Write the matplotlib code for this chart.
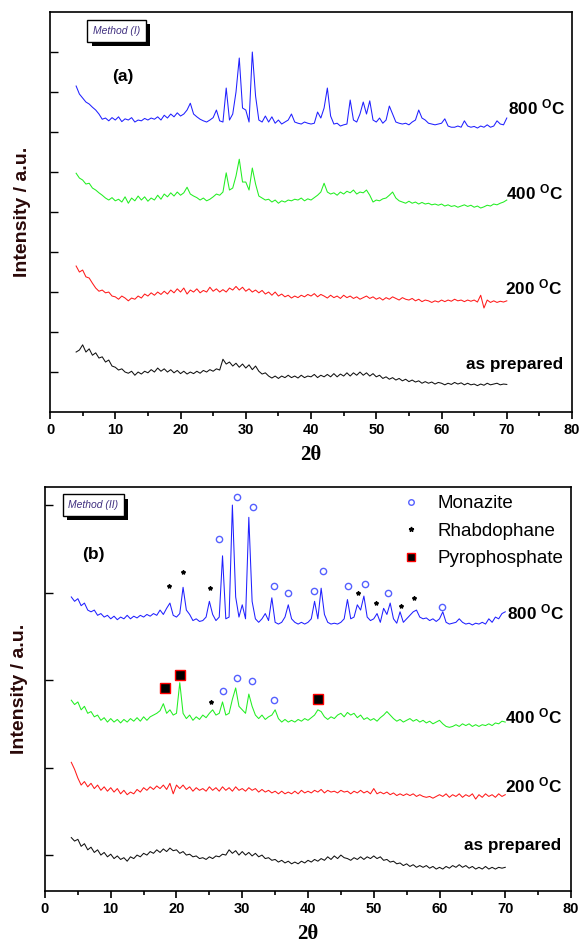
import numpy as np
import matplotlib.pyplot as plt
import matplotlib.patheffects as pe
from matplotlib.lines import Line2D

plt.rcParams['font.family'] = ['Liberation Sans', 'DejaVu Sans']
plt.rcParams['mathtext.fontset'] = 'custom'
plt.rcParams['mathtext.rm'] = 'Liberation Sans:bold'

# scan steps, 2theta in degrees (0.5 deg)
two_theta = np.linspace(4, 70, 133)

# ---- Method (I), offset intensities
a800 = [8.15, 7.95, 7.85, 7.75, 7.7, 7.62, 7.55, 7.45, 7.32, 7.35, 7.28, 7.36,
        7.3, 7.38, 7.26, 7.33, 7.3, 7.36, 7.25, 7.3, 7.28, 7.34, 7.3, 7.35,
        7.32, 7.38, 7.3, 7.42, 7.35, 7.45, 7.38, 7.48, 7.4, 7.45, 7.55, 7.72,
        7.45, 7.38, 7.32, 7.28, 7.25, 7.3, 7.36, 7.55, 7.28, 7.25, 8.1, 7.3,
        7.45, 8.0, 8.85, 7.6, 7.55, 7.25, 9.0, 7.9, 7.3, 7.25, 7.4, 7.25,
        7.38, 7.22, 7.3, 7.2, 7.25, 7.3, 7.45, 7.25, 7.22, 7.2, 7.25, 7.22,
        7.2, 7.22, 7.5, 7.35, 7.6, 8.1, 7.4, 7.2, 7.22, 7.15, 7.18, 7.2,
        7.8, 7.3, 7.25, 7.45, 7.75, 7.45, 7.78, 7.3, 7.25, 7.35, 7.22, 7.3,
        7.65, 7.45, 7.25, 7.22, 7.2, 7.22, 7.18, 7.25, 7.3, 7.55, 7.35, 7.3,
        7.22, 7.2, 7.18, 7.2, 7.22, 7.33, 7.15, 7.12, 7.12, 7.15, 7.12, 7.28,
        7.15, 7.12, 7.14, 7.1, 7.15, 7.12, 7.18, 7.12, 7.15, 7.28, 7.2, 7.18, 7.35]
a400 = [5.97, 5.85, 5.8, 5.7, 5.72, 5.6, 5.55, 5.48, 5.42, 5.35, 5.3, 5.36,
        5.28, 5.32, 5.25, 5.38, 5.22, 5.35, 5.28, 5.4, 5.3, 5.38, 5.27, 5.35,
        5.3, 5.42, 5.32, 5.45, 5.38, 5.48, 5.4, 5.5, 5.42, 5.48, 5.62, 5.45,
        5.4, 5.36, 5.3, 5.35, 5.28, 5.32, 5.38, 5.45, 5.42, 5.5, 5.98, 5.55,
        5.6, 5.9, 6.32, 5.75, 5.75, 5.55, 6.1, 5.7, 5.4, 5.35, 5.3, 5.32,
        5.25, 5.3, 5.22, 5.28, 5.25, 5.3, 5.28, 5.32, 5.3, 5.35, 5.28, 5.33,
        5.3, 5.36, 5.42, 5.5, 5.72, 5.5, 5.45, 5.48, 5.42, 5.5, 5.45, 5.52,
        5.48, 5.55, 5.45, 5.5, 5.48, 5.55, 5.42, 5.25, 5.3, 5.28, 5.33, 5.35,
        5.42, 5.5, 5.35, 5.28, 5.25, 5.22, 5.27, 5.22, 5.25, 5.2, 5.24, 5.2,
        5.22, 5.18, 5.2, 5.17, 5.2, 5.15, 5.18, 5.14, 5.16, 5.12, 5.15, 5.18,
        5.14, 5.17, 5.12, 5.15, 5.1, 5.13, 5.17, 5.15, 5.2, 5.18, 5.22, 5.25, 5.3]
a200 = [3.65, 3.5, 3.55, 3.38, 3.35, 3.22, 3.1, 3.02, 3.05, 2.98, 3.0, 2.9,
        2.88, 2.82, 2.9, 2.85, 2.78, 2.85, 2.82, 2.9, 2.85, 2.95, 2.9, 2.98,
        2.92, 3.0, 2.94, 3.02, 2.95, 3.05, 2.98, 3.08, 3.0, 3.1, 2.95, 3.05,
        3.0, 3.08, 2.98, 3.04, 3.0, 3.12, 3.02, 3.08, 3.0, 3.06, 3.0, 3.1,
        3.05, 3.14, 3.05, 3.12, 3.02, 3.08, 3.0, 3.05, 2.98, 3.04, 2.95, 3.0,
        2.92, 3.0, 2.9, 2.95, 2.88, 2.92, 2.85, 2.9, 2.86, 2.92, 2.88, 2.94,
        2.9, 2.96, 2.88, 2.94, 2.9, 2.85, 2.92, 2.86, 2.9, 2.84, 2.92, 2.86,
        2.9, 2.84, 2.88, 2.82, 2.86, 2.9, 2.84, 2.88, 2.82, 2.86, 2.8, 2.86,
        2.82, 2.88, 2.84, 2.8, 2.86, 2.82, 2.8, 2.84, 2.78, 2.82, 2.76, 2.8,
        2.78, 2.74, 2.78, 2.75, 2.8, 2.76, 2.8, 2.77, 2.82, 2.78, 2.8, 2.76,
        2.8, 2.77, 2.8, 2.75, 2.92, 2.6, 2.8, 2.74, 2.78, 2.74, 2.77, 2.75, 2.78]
a_prep = [1.5, 1.55, 1.68, 1.5, 1.58, 1.42, 1.48, 1.35, 1.38, 1.25, 1.3, 1.15,
          1.12, 1.05, 1.08, 1.0, 0.97, 1.02, 0.92, 1.0, 0.95, 1.02, 0.98, 1.06,
          1.0, 1.1, 1.02, 1.08, 1.0, 1.06, 0.98, 1.04, 0.96, 1.02, 0.95, 1.0,
          0.96, 1.02, 0.97, 1.04, 1.0, 1.06, 1.02, 1.08, 1.05, 1.32, 1.2, 1.25,
          1.15, 1.22, 1.12, 1.2, 1.1, 1.18, 1.06, 1.15, 1.02, 0.95, 0.98, 0.9,
          0.85, 0.9, 0.84, 0.9, 0.86, 0.92, 0.86, 0.9, 0.85, 0.92, 0.86, 0.9,
          0.88, 0.94, 0.86, 0.92, 0.88, 0.94, 0.88, 0.96, 0.88, 0.95, 0.9, 0.98,
          0.9, 0.98, 0.92, 1.0, 0.92, 0.98, 0.9, 0.96, 0.88, 0.92, 0.84, 0.88,
          0.82, 0.86, 0.8, 0.84, 0.78, 0.82, 0.76, 0.8, 0.75, 0.78, 0.72, 0.76,
          0.72, 0.75, 0.7, 0.74, 0.72, 0.68, 0.72, 0.69, 0.74, 0.7, 0.73, 0.68,
          0.72, 0.68, 0.7, 0.66, 0.7, 0.67, 0.72, 0.68, 0.7, 0.72, 0.68, 0.7, 0.69]

# ---- Method (II), offset intensities
b800 = [3.95, 3.9, 3.93, 3.85, 3.88, 3.8, 3.78, 3.8, 3.74, 3.76, 3.72, 3.74,
        3.7, 3.73, 3.69, 3.72, 3.7, 3.74, 3.7, 3.73, 3.71, 3.74, 3.72, 3.75,
        3.73, 3.76, 3.74, 3.8, 3.75, 3.82, 3.88, 3.74, 3.72, 3.76, 4.06, 3.8,
        3.75, 3.68, 3.7, 3.67, 3.68, 3.72, 3.9, 3.75, 3.68, 3.72, 4.42, 3.7,
        3.72, 5.0, 3.95, 3.72, 3.86, 3.7, 4.86, 3.9, 3.7, 3.66, 3.7, 3.76,
        3.68, 3.94, 3.66, 3.64, 3.66, 3.72, 3.86, 3.7, 3.66, 3.64, 3.66, 3.64,
        3.66, 3.7, 3.9, 3.7, 4.05, 3.75, 3.66, 3.64, 3.65, 3.64, 3.66, 3.7,
        3.92, 3.7, 3.72, 3.86, 3.8, 3.96, 3.72, 3.68, 3.7, 3.76, 3.66, 3.82,
        3.75, 3.88, 3.7, 3.65, 3.78, 3.66, 3.7, 3.74, 3.78, 3.8, 3.72, 3.7,
        3.71, 3.68, 3.7, 3.67, 3.7, 3.78, 3.66, 3.64, 3.65, 3.66, 3.7, 3.66,
        3.64, 3.65, 3.63, 3.65, 3.64, 3.66, 3.64, 3.7, 3.66, 3.72, 3.7, 3.76, 3.78]
b400 = [2.77, 2.72, 2.75, 2.66, 2.7, 2.62, 2.64, 2.58, 2.6, 2.54, 2.57, 2.52,
        2.56, 2.52, 2.55, 2.51, 2.55, 2.52, 2.56, 2.53, 2.57, 2.53, 2.58, 2.54,
        2.58, 2.6, 2.62, 2.65, 2.73, 2.62, 2.66, 2.6, 2.62, 2.97, 2.62, 2.56,
        2.6, 2.54, 2.58, 2.55, 2.6, 2.57, 2.62, 2.66, 2.6, 2.62, 2.75, 2.6,
        2.62, 2.78, 2.91, 2.7, 2.66, 2.62, 2.84, 2.7, 2.6, 2.56, 2.6, 2.55,
        2.58, 2.6, 2.66, 2.56, 2.52, 2.55, 2.52, 2.54, 2.52, 2.55, 2.53, 2.56,
        2.54, 2.57, 2.6, 2.66, 2.64, 2.58, 2.55, 2.58, 2.56, 2.6, 2.62, 2.58,
        2.63, 2.6, 2.62, 2.57, 2.6, 2.55, 2.57, 2.54, 2.56, 2.53, 2.57, 2.6,
        2.64, 2.6, 2.56, 2.53, 2.55, 2.52, 2.54, 2.56, 2.53, 2.55, 2.52, 2.54,
        2.51, 2.53, 2.5, 2.52, 2.54, 2.5, 2.47, 2.46, 2.47, 2.49, 2.47, 2.5,
        2.48, 2.5, 2.47, 2.49, 2.47, 2.49, 2.48, 2.5, 2.48, 2.51, 2.5, 2.53, 2.52]
b200 = [2.06, 1.98, 1.88, 1.8, 1.84, 1.78, 1.82, 1.76, 1.8, 1.74, 1.78, 1.73,
        1.77, 1.72, 1.76, 1.7, 1.74, 1.69, 1.72, 1.7, 1.75, 1.72, 1.77, 1.74,
        1.78, 1.75, 1.79, 1.76, 1.8, 1.75, 1.82, 1.7, 1.8, 1.76, 1.8, 1.75,
        1.78, 1.73, 1.77, 1.74, 1.76, 1.73, 1.78, 1.74, 1.77, 1.73, 1.78, 1.74,
        1.77, 1.73, 1.78, 1.74, 1.76, 1.73, 1.77, 1.74, 1.76, 1.72, 1.75, 1.72,
        1.74, 1.71, 1.73, 1.7, 1.73, 1.7, 1.72, 1.7, 1.73, 1.7, 1.74, 1.71,
        1.73, 1.71, 1.74, 1.72, 1.75, 1.71, 1.74, 1.72, 1.73, 1.71, 1.74, 1.72,
        1.73, 1.7, 1.73, 1.71, 1.74, 1.71, 1.73, 1.7, 1.76, 1.7, 1.72, 1.7,
        1.72, 1.69, 1.71, 1.68, 1.7, 1.68, 1.7, 1.68, 1.7, 1.67, 1.69, 1.67,
        1.66, 1.67, 1.65, 1.67, 1.69, 1.67, 1.7, 1.66, 1.69, 1.67, 1.7, 1.66,
        1.69, 1.67, 1.7, 1.64, 1.69, 1.66, 1.7, 1.67, 1.69, 1.66, 1.7, 1.67, 1.69]
b_prep = [1.2, 1.16, 1.18, 1.1, 1.13, 1.06, 1.09, 1.03, 1.06, 1.0, 1.03, 0.98,
          1.01, 0.96, 0.99, 0.95, 0.97, 0.93, 0.98, 0.96, 1.0, 0.98, 1.02, 1.0,
          1.04, 1.02, 1.06, 1.03, 1.07, 1.04, 1.08, 1.05, 1.06, 1.02, 1.04, 1.0,
          1.01, 0.98, 0.99, 0.96, 0.97, 0.95, 0.98, 0.96, 0.99, 0.98, 1.01, 1.0,
          1.06, 1.02, 1.05, 1.0, 1.04, 1.0, 1.03, 0.99, 1.02, 0.98, 1.0, 0.96,
          0.97, 0.94, 0.95, 0.92, 0.94, 0.91, 0.93, 0.9, 0.92, 0.9, 0.93, 0.91,
          0.94, 0.92, 0.95, 0.93, 0.96, 0.94, 0.98, 0.95, 0.99, 0.96, 1.0, 0.97,
          0.96, 0.94, 0.97, 0.95, 0.98, 0.95, 0.98, 0.96, 0.99, 0.96, 0.98, 0.94,
          0.95, 0.92, 0.93, 0.9, 0.91, 0.88, 0.9, 0.87, 0.89, 0.86, 0.88, 0.86,
          0.88, 0.85, 0.87, 0.84, 0.86, 0.84, 0.87, 0.85, 0.88, 0.86, 0.89, 0.86,
          0.88, 0.85, 0.87, 0.84, 0.86, 0.84, 0.87, 0.84, 0.86, 0.84, 0.86, 0.85, 0.86]

# phase markers (2theta, offset intensity)
mon_x = [26.5, 29.2, 31.6, 34.8, 37.0, 40.9, 42.3, 46.1, 48.7, 52.2, 60.4,
         27.1, 29.2, 31.5, 34.8]
mon_y = [4.61, 5.09, 4.98, 4.07, 4.0, 4.02, 4.25, 4.07, 4.1, 3.99, 3.83,
         2.87, 3.02, 2.99, 2.77]
rha_x = [18.9, 21.0, 25.1, 47.6, 50.3, 54.1, 56.1, 25.2]
rha_y = [4.07, 4.23, 4.05, 3.99, 3.88, 3.85, 3.94, 2.75]
pyr_x = [18.2, 20.5, 41.5]
pyr_y = [2.91, 3.06, 2.78]

labels = ['800 $\\mathregular{^{O}}$C', '400 $\\mathregular{^{O}}$C',
          '200 $\\mathregular{^{O}}$C', 'as prepared']
colors = ['#2020ff', '#22ee22', '#ff1a1a', '#111111']

fig = plt.figure(figsize=(5.79, 9.47), dpi=100)
ax1 = fig.add_axes([0.0864, 0.5649, 0.9016, 0.4224])
ax2 = fig.add_axes([0.0777, 0.0591, 0.9085, 0.4266])

for y, c in zip([a800, a400, a200, a_prep], colors):
    ax1.plot(two_theta, y, color=c, lw=0.75)
for y, c in zip([b800, b400, b200, b_prep], colors):
    ax2.plot(two_theta, y, color=c, lw=0.75)

ax2.plot(mon_x, mon_y, 'o', ms=4.5, mfc='none', mec='#5560ff', mew=1.0, ls='none')
ax2.plot(rha_x, rha_y, '*', ms=3, color='black', ls='none')
ax2.plot(pyr_x, pyr_y, 's', ms=7, mfc='black', mec='red', mew=1.0, ls='none')

# curve labels
for (x, y), t in zip([(70.2, 7.62), (69.9, 5.5), (69.8, 3.12), (63.8, 1.2)], labels):
    ax1.text(x, y, t, fontsize=12.3, fontweight='bold', va='center')
for (x, y), t in zip([(70.2, 3.77), (69.9, 2.58), (69.9, 1.79), (63.7, 1.11)], labels):
    ax2.text(x, y, t, fontsize=12.3, fontweight='bold', va='center')

ax1.text(11.1, 8.4, '(a)', fontsize=12.5, fontweight='bold', ha='center', va='center')
ax2.text(7.3, 4.44, '(b)', fontsize=12.5, fontweight='bold', ha='center', va='center')

for ax, t, pos in [(ax1, 'Method (I)', (0.128, 0.953)), (ax2, 'Method (II)', (0.092, 0.955))]:
    tx = ax.text(pos[0], pos[1], t, transform=ax.transAxes, fontsize=7.5,
                 style='italic', color='#403080', ha='center', va='center',
                 bbox=dict(boxstyle='square,pad=0.55', fc='white', ec='black', lw=1.0))
    tx.get_bbox_patch().set_path_effects(
        [pe.SimplePatchShadow(offset=(3, -3), shadow_rgbFace='black', alpha=1.0), pe.Normal()])

handles = [Line2D([], [], marker='o', ms=4, mfc='none', mec='#5560ff', ls='none'),
           Line2D([], [], marker='*', ms=3.5, color='black', ls='none'),
           Line2D([], [], marker='s', ms=6, mfc='black', mec='red', ls='none')]
ax2.legend(handles, ['Monazite', 'Rhabdophane', 'Pyrophosphate'], loc='upper right',
           bbox_to_anchor=(1.011, 1.012), frameon=False, fontsize=13.5, handletextpad=0.45,
           labelspacing=0.55, borderaxespad=0.3)

for ax in (ax1, ax2):
    ax.set_xlim(0, 80)
    ax.set_xticks(range(0, 81, 10))
    ax.set_xticks(range(5, 80, 10), minor=True)
    ax.tick_params(axis='x', which='major', direction='out', length=5, width=1.2,
                   labelsize=10.5, pad=3)
    ax.tick_params(axis='x', which='minor', direction='out', length=3, width=1.2)
    ax.tick_params(axis='y', direction='in', length=6, width=1.0, labelleft=False)
    for lab in ax.get_xticklabels():
        lab.set_fontweight('bold')
    for s in ax.spines.values():
        s.set_linewidth(1.2)
    ax.set_xlabel('2\u03b8', fontsize=15, fontweight='bold', family='Liberation Serif',
                  labelpad=6)

ax1.set_ylim(0, 10)
ax1.set_yticks(range(1, 10))
ax2.set_ylim(0.589, 5.206)
ax2.set_yticks(range(1, 6))
ax1.set_ylabel('Intensity / a.u.', fontsize=14, fontweight='bold', color='#2a0808', labelpad=14)
ax2.set_ylabel('Intensity / a.u.', fontsize=14, fontweight='bold', color='#2a0808', labelpad=12)

fig.savefig('out.png', dpi=100)
